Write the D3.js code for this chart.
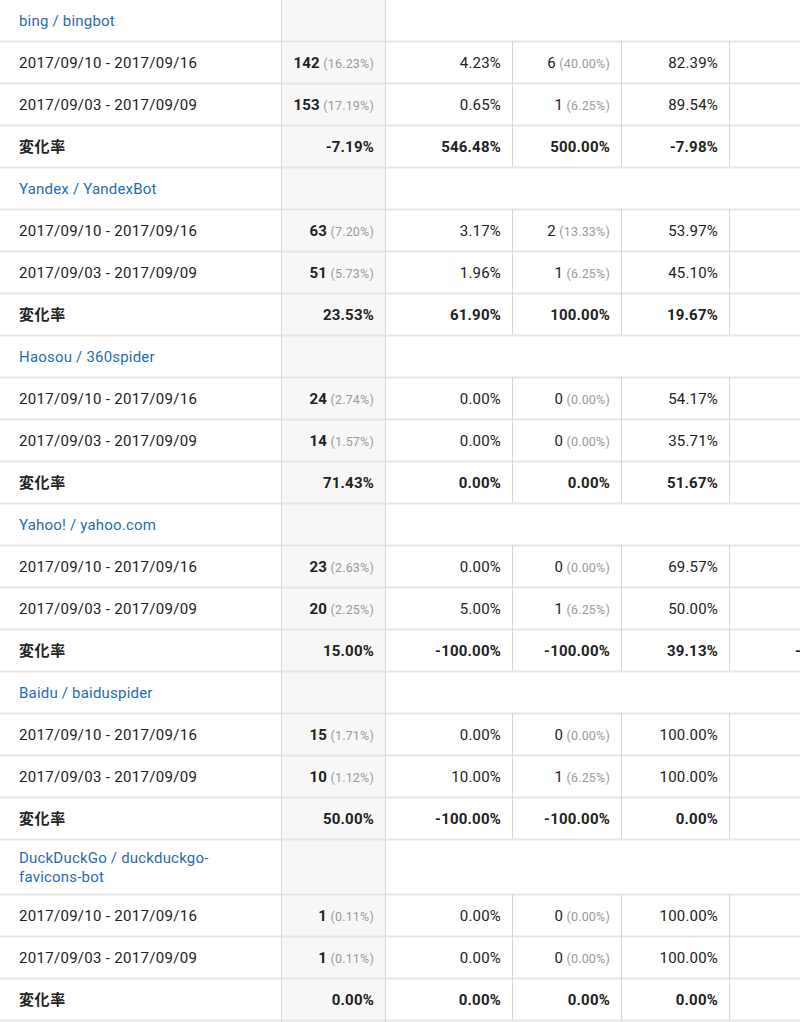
<!DOCTYPE html>
<html>
<head>
<meta charset="utf-8">
<script src="https://cdnjs.cloudflare.com/ajax/libs/d3/7.8.5/d3.min.js"></script>
<style>
  body { margin: 0; background: #fff; overflow: hidden; }
  svg { display: block; font-family: Roboto, "Noto Sans CJK JP", sans-serif; }
  text { letter-spacing: 0.2px; }
</style>
</head>
<body>
<svg id="table"></svg>
<script>

// --- data ---
var bots = ["bing / bingbot", "Yandex / YandexBot", "Haosou / 360spider",
            "Yahoo! / yahoo.com", "Baidu / baiduspider", "DuckDuckGo / duckduckgo-favicons-bot"];
var periods = ["2017/09/10 - 2017/09/16", "2017/09/03 - 2017/09/09"];
var changeLabel = "変化率";

var sessions      = [[142, 153], [63, 51], [24, 14], [23, 20], [15, 10], [1, 1]];
var sessionShare  = [["16.23%", "17.19%"], ["7.20%", "5.73%"], ["2.74%", "1.57%"],
                     ["2.63%", "2.25%"], ["1.71%", "1.12%"], ["0.11%", "0.11%"]];
var newRate       = [["4.23%", "0.65%"], ["3.17%", "1.96%"], ["0.00%", "0.00%"],
                     ["0.00%", "5.00%"], ["0.00%", "10.00%"], ["0.00%", "0.00%"]];
var newUsers      = [[6, 1], [2, 1], [0, 0], [0, 1], [0, 1], [0, 0]];
var newUsersShare = [["40.00%", "6.25%"], ["13.33%", "6.25%"], ["0.00%", "0.00%"],
                     ["0.00%", "6.25%"], ["0.00%", "6.25%"], ["0.00%", "0.00%"]];
var bounceRate    = [["82.39%", "89.54%"], ["53.97%", "45.10%"], ["54.17%", "35.71%"],
                     ["69.57%", "50.00%"], ["100.00%", "100.00%"], ["100.00%", "100.00%"]];
var changeRates   = [["-7.19%", "546.48%", "500.00%", "-7.98%"],
                     ["23.53%", "61.90%", "100.00%", "19.67%"],
                     ["71.43%", "0.00%", "0.00%", "51.67%"],
                     ["15.00%", "-100.00%", "-100.00%", "39.13%"],
                     ["50.00%", "-100.00%", "-100.00%", "0.00%"],
                     ["0.00%", "0.00%", "0.00%", "0.00%"]];
// next column, mostly off screen
var pagesChange   = [null, null, null, "-100.00%", null, null];

var W = 800, H = 1022;
var rowH = 42, wrapRowH = 55;

var svg = d3.select("#table").attr("width", W).attr("height", H);

// column edges
var cols = ["label", "sessions", "newRate", "newUsers", "bounce", "pages"];
var colLeft = d3.scaleOrdinal().domain(cols).range([0, 281, 385, 512, 621, 729]);
var colRight = d3.scaleOrdinal().domain(cols).range([281, 385, 512, 621, 729, 872]);
var pad = 11;

// build the row list
var rows = [];
bots.forEach(function(b, i) {
  rows.push({type: "head", g: i, text: b, h: b.length > 30 ? wrapRowH : rowH});
  periods.forEach(function(p, j) {
    rows.push({type: "period", g: i, j: j, text: p, h: rowH});
  });
  rows.push({type: "change", g: i, text: changeLabel, h: rowH});
});
var tops = [-1].concat(Array.from(d3.cumsum(rows, function(r) { return r.h; })).map(function(v) { return v - 1; }));
rows.forEach(function(r, k) { r.y = tops[k]; });

// shaded sessions column
svg.append("rect")
  .attr("x", colLeft("sessions")).attr("y", 0)
  .attr("width", colRight("sessions") - colLeft("sessions")).attr("height", H)
  .attr("fill", "#f7f7f7");

// horizontal rules
svg.selectAll(".hline").data(rows.slice(1).concat([{y: tops[rows.length]}]))
  .enter().append("line")
  .attr("x1", 0).attr("x2", W)
  .attr("y1", function(d) { return d.y + 0.5; }).attr("y2", function(d) { return d.y + 0.5; })
  .attr("stroke", "#e6e6e6").attr("stroke-width", 2);

// vertical rules: sessions column borders run full height
["sessions"].forEach(function(c) {
  [colLeft(c), colRight(c)].forEach(function(x) {
    svg.append("line").attr("x1", x + 0.5).attr("x2", x + 0.5)
      .attr("y1", 0).attr("y2", H).attr("stroke", "#d6d6d6");
  });
});
// other column borders only on data rows
var dataRows = rows.filter(function(r) { return r.type != "head"; });
["newRate", "newUsers", "bounce"].forEach(function(c) {
  svg.selectAll(null).data(dataRows).enter().append("line")
    .attr("x1", colRight(c) + 0.5).attr("x2", colRight(c) + 0.5)
    .attr("y1", function(d) { return d.y; }).attr("y2", function(d) { return d.y + d.h; })
    .attr("stroke", "#d6d6d6");
});

var g = svg.selectAll(".row").data(rows).enter().append("g")
  .attr("transform", function(d) { return "translate(0," + d.y + ")"; });

// label column
g.each(function(d) {
  var sel = d3.select(this);
  if (d.type == "head") {
    var t = sel.append("text").attr("x", 19).attr("fill", "#1f6db3").style("font-size", "15px");
    if (d.h > rowH) {
      var parts = ["DuckDuckGo / duckduckgo-", "favicons-bot"];
      parts.forEach(function(p, k) {
        t.append("tspan").attr("x", 19).attr("y", 24 + k * 19).text(p);
      });
    } else {
      t.attr("y", d.h / 2 + 5.5).text(d.text);
    }
  } else {
    sel.append("text").attr("x", 19).attr("y", d.h / 2 + 5.5)
      .attr("fill", "#222")
      .style("font-size", "15px")
      .style("letter-spacing", d.type == "change" ? "0.6px" : "0.3px")
      .style("font-weight", d.type == "change" ? "700" : "400")
      .text(d.text);
  }
});

// value with grey share in brackets
function pairCell(sel, col, main, share) {
  var t = sel.append("text")
    .attr("x", colRight(col) - pad).attr("y", rowH / 2 + 5.5)
    .attr("text-anchor", "end").attr("fill", "#222");
  t.append("tspan").style("font-size", "15px")
    .style("font-weight", col == "sessions" ? "700" : "400").text(main);
  t.append("tspan").style("font-size", "12.5px").attr("fill", "#9a9a9a").text(" (" + share + ")");
}
function plainCell(sel, col, v, bold) {
  sel.append("text")
    .attr("x", colRight(col) - pad).attr("y", rowH / 2 + 5.5)
    .attr("text-anchor", "end").attr("fill", "#222")
    .style("font-size", "15px").style("font-weight", bold ? "700" : "400")
    .text(v);
}

g.filter(function(d) { return d.type == "period"; }).each(function(d) {
  var sel = d3.select(this);
  pairCell(sel, "sessions", sessions[d.g][d.j], sessionShare[d.g][d.j]);
  plainCell(sel, "newRate", newRate[d.g][d.j], false);
  pairCell(sel, "newUsers", newUsers[d.g][d.j], newUsersShare[d.g][d.j]);
  plainCell(sel, "bounce", bounceRate[d.g][d.j], false);
});

g.filter(function(d) { return d.type == "change"; }).each(function(d) {
  var sel = d3.select(this);
  ["sessions", "newRate", "newUsers", "bounce"].forEach(function(c, k) {
    plainCell(sel, c, changeRates[d.g][k], true);
  });
  if (pagesChange[d.g]) plainCell(sel, "pages", pagesChange[d.g], true);
});

</script>
</body>
</html>
